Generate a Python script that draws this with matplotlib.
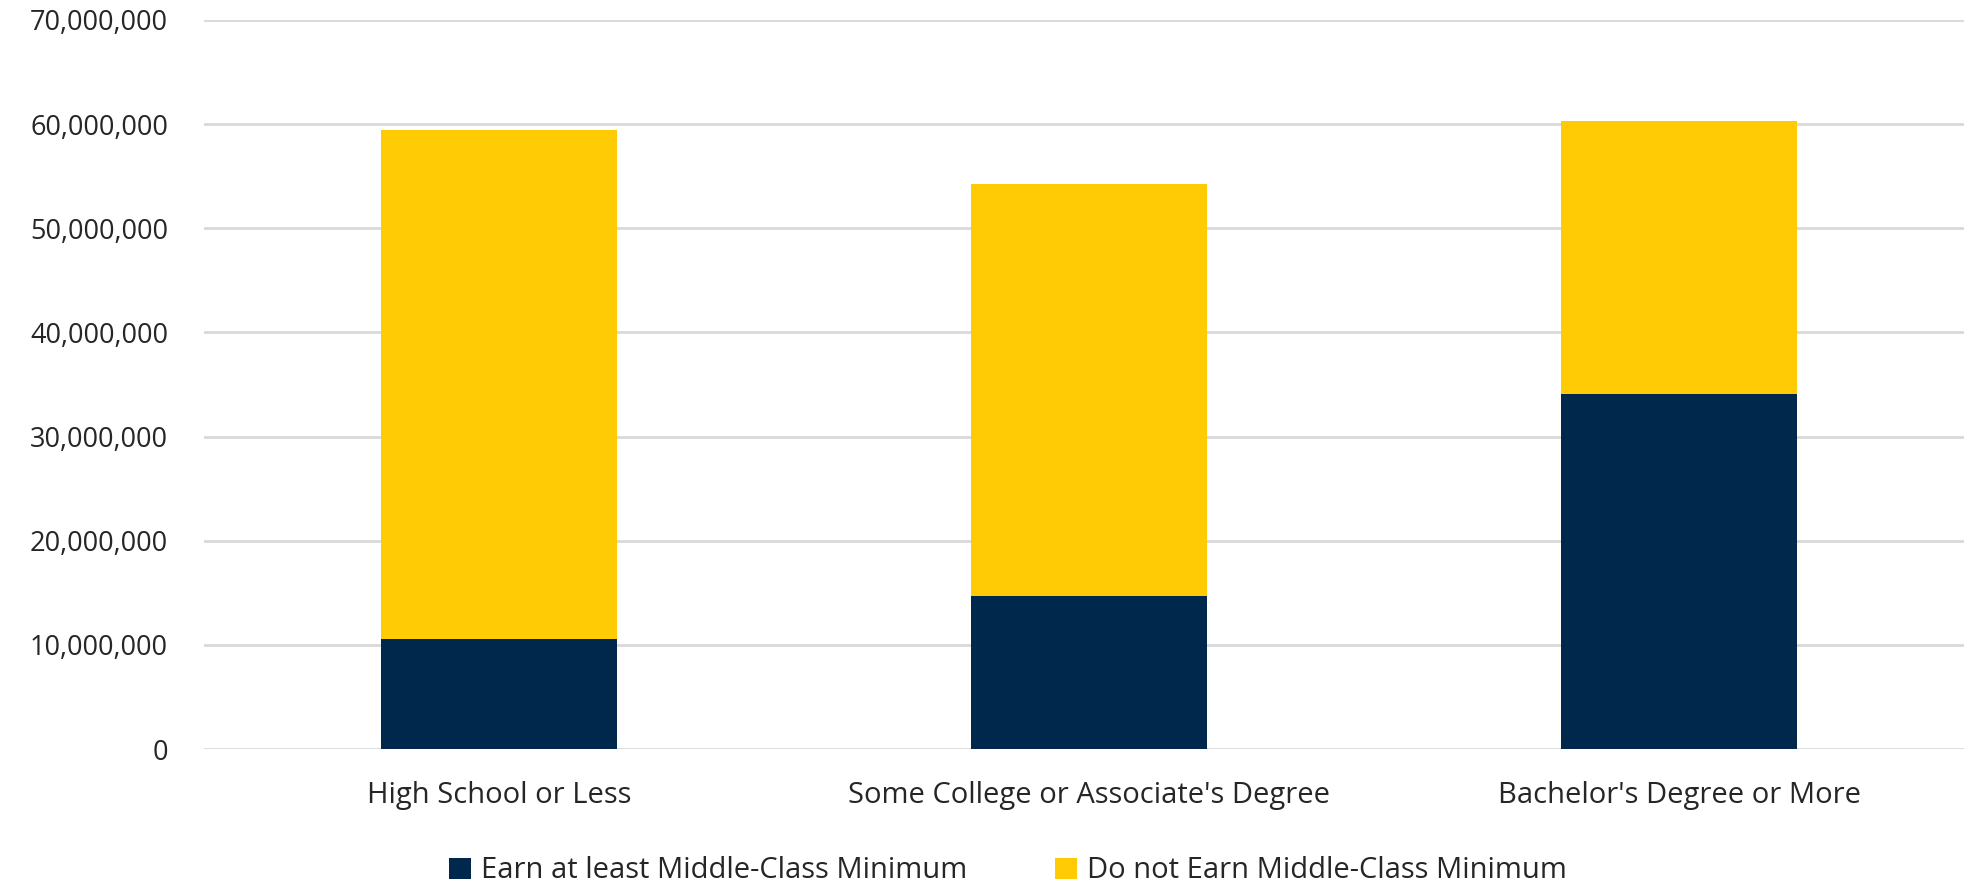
import numpy as np
import matplotlib.pyplot as plt
from matplotlib.ticker import FuncFormatter

categories = ["High School or Less", "Some College or Associate's Degree", "Bachelor's Degree or More"]
earn_min = [10_530_000, 14_690_000, 34_090_000]
not_earn = [48_900_000, 39_550_000, 26_180_000]
series_names = ["Earn at least Middle-Class Minimum", "Do not Earn Middle-Class Minimum"]

NAVY = "#00274C"
MAIZE = "#FFCB05"

plt.rcParams['font.family'] = ['Open Sans', 'DejaVu Sans']

fig = plt.figure(figsize=(19.64, 8.83), dpi=100)
ax = fig.add_axes([204 / 1964, 1 - 749 / 883, (1964 - 204) / 1964, (749 - 20) / 883])

x = np.arange(len(categories))
ax.bar(x, earn_min, width=0.4, color=NAVY, label=series_names[0], zorder=3)
ax.bar(x, not_earn, width=0.4, bottom=earn_min, color=MAIZE, label=series_names[1], zorder=3)

ax.set_ylim(0, 70_000_000)
ax.set_xlim(-0.5, 2.5 - 10 / 590)
ax.set_yticks(np.arange(0, 70_000_001, 10_000_000))
ax.yaxis.set_major_formatter(FuncFormatter(lambda v, p: f"{int(v):,}"))
ax.set_xticks(x)
ax.set_xticklabels(categories)

ax.grid(axis='y', color='#d9d9d9', linewidth=2, zorder=0)
for s in ax.spines.values():
    s.set_visible(False)
ax.tick_params(axis='both', length=0, colors='#262626')
ax.tick_params(axis='y', pad=26, labelsize=19.5)
ax.tick_params(axis='x', pad=23, labelsize=21)

fig.legend(loc='center', bbox_to_anchor=(1008 / 1964, 1 - 871 / 883), ncol=2,
           frameon=False, fontsize=21, handlelength=0.75, handleheight=0.75,
           handletextpad=0.35, columnspacing=3.0, labelcolor='#262626')

fig.savefig("out.png", dpi=100)
